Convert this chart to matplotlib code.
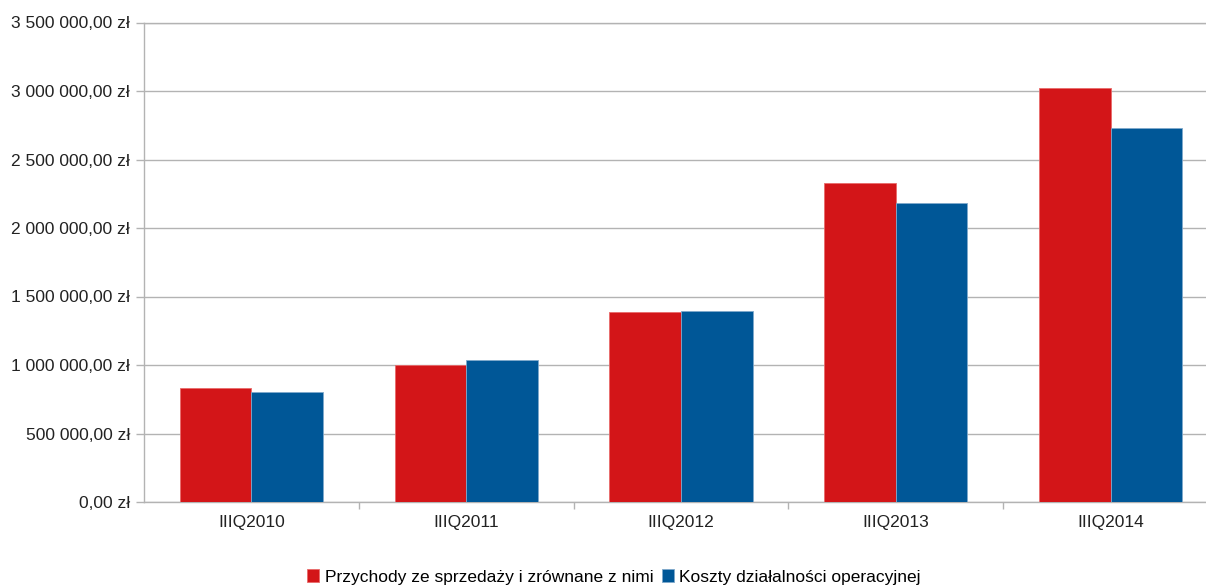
import matplotlib.pyplot as plt
import numpy as np
from matplotlib.ticker import FuncFormatter, FixedLocator

# Dane kwartalne
kwartaly = ['IIIQ2010', 'IIIQ2011', 'IIIQ2012', 'IIIQ2013', 'IIIQ2014']
przychody = [829000, 998000, 1385000, 2330000, 3025000]
koszty = [802000, 1035000, 1394000, 2179000, 2733000]

plt.rcParams['font.family'] = ['Liberation Sans', 'DejaVu Sans']
plt.rcParams['font.size'] = 12.5

czerwony = '#d31518'
niebieski = '#005797'
szary = '#b3b3b3'

fig = plt.figure(figsize=(12.06, 5.87), dpi=100)
ax = fig.add_axes([144 / 1206, 85 / 587, 1074 / 1206, 479.5 / 587])

x = np.arange(len(kwartaly))
w = 1 / 3
ax.bar(x - w / 2, przychody, w, color=czerwony, edgecolor='#e86a6a', linewidth=0.6,
       label='Przychody ze sprzedaży i zrównane z nimi', zorder=3)
ax.bar(x + w / 2, koszty, w, color=niebieski, edgecolor='#7fa9cc', linewidth=0.6,
       label='Koszty działalności operacyjnej', zorder=3)

ax.set_xlim(-0.5, len(kwartaly) - 0.5)
ax.set_ylim(0, 3500000)
ax.set_yticks(np.arange(0, 3500001, 500000))


def zl(v, pos):
    s = f'{v:,.2f}'.replace(',', ' ').replace('.', ',')
    return s + ' zł'


ax.yaxis.set_major_formatter(FuncFormatter(zl))
ax.set_xticks(x)
ax.set_xticklabels(kwartaly)
ax.xaxis.set_minor_locator(FixedLocator(np.arange(0.5, len(kwartaly) - 0.5, 1)))

ax.tick_params(axis='x', which='major', length=0, pad=9, colors='#222222')
ax.tick_params(axis='x', which='minor', length=5, color=szary, width=1)
ax.tick_params(axis='y', length=6, width=1, pad=4, colors='#222222')
ax.tick_params(axis='y', color=szary)

ax.yaxis.grid(True, color=szary, linewidth=1)
ax.set_axisbelow(True)
for side in ['left', 'bottom', 'top']:
    ax.spines[side].set_color(szary)
    ax.spines[side].set_linewidth(1)
ax.spines['right'].set_visible(False)

fig.legend(loc='center', bbox_to_anchor=(614 / 1206, 1 - 577 / 587), ncol=2,
           frameon=False, handlelength=0.7, handleheight=0.7, handletextpad=0.3,
           columnspacing=0.5, borderaxespad=0)

fig.savefig('out.png', dpi=100)
